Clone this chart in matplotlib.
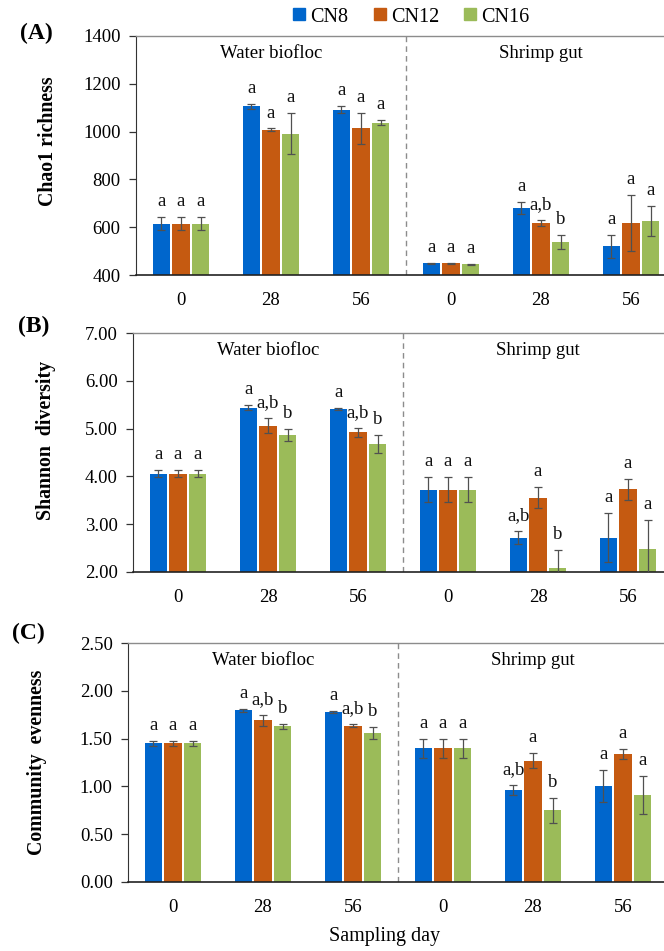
import matplotlib
matplotlib.use("Agg")
import matplotlib.pyplot as plt
from matplotlib.lines import Line2D
import numpy as np

plt.rcParams['font.family'] = ['Liberation Serif', 'DejaVu Serif']

series = ['CN8', 'CN12', 'CN16']
colors = ['#0066CC', '#C55A11', '#9BBB59']
days = ['0', '28', '56', '0', '28', '56']
sections = ['Water biofloc', 'Shrimp gut']

# Panel A - Chao1 richness
chao1_mean = {
    'CN8':  [615, 1106, 1092, 449, 682, 520],
    'CN12': [615, 1008, 1013, 449, 618, 618],
    'CN16': [615, 992, 1038, 445, 538, 626],
}
chao1_err = {
    'CN8':  [28, 10, 15, 3, 25, 48],
    'CN12': [28, 5, 64, 3, 14, 117],
    'CN16': [28, 87, 10, 3, 29, 63],
}
chao1_letters = {
    'CN8':  ['a', 'a', 'a', 'a', 'a', 'a'],
    'CN12': ['a', 'a', 'a', 'a', 'a,b', 'a'],
    'CN16': ['a', 'a', 'a', 'a', 'b', 'a'],
}

# Panel B - Shannon diversity
shannon_mean = {
    'CN8':  [4.06, 5.44, 5.41, 3.72, 2.72, 2.72],
    'CN12': [4.06, 5.06, 4.92, 3.72, 3.55, 3.73],
    'CN16': [4.06, 4.87, 4.68, 3.72, 2.08, 2.48],
}
shannon_err = {
    'CN8':  [0.07, 0.05, 0.03, 0.26, 0.14, 0.52],
    'CN12': [0.07, 0.16, 0.09, 0.26, 0.22, 0.22],
    'CN16': [0.07, 0.12, 0.19, 0.26, 0.38, 0.60],
}
shannon_letters = {
    'CN8':  ['a', 'a', 'a', 'a', 'a,b', 'a'],
    'CN12': ['a', 'a,b', 'a,b', 'a', 'a', 'a'],
    'CN16': ['a', 'b', 'b', 'a', 'b', 'a'],
}

# Panel C - Community evenness
even_mean = {
    'CN8':  [1.45, 1.795, 1.78, 1.40, 0.96, 1.005],
    'CN12': [1.45, 1.69, 1.635, 1.40, 1.27, 1.34],
    'CN16': [1.45, 1.63, 1.56, 1.40, 0.75, 0.91],
}
even_err = {
    'CN8':  [0.03, 0.015, 0.01, 0.10, 0.05, 0.17],
    'CN12': [0.03, 0.06, 0.015, 0.10, 0.08, 0.055],
    'CN16': [0.03, 0.025, 0.06, 0.10, 0.13, 0.20],
}
even_letters = {
    'CN8':  ['a', 'a', 'a', 'a', 'a,b', 'a'],
    'CN12': ['a', 'a,b', 'a,b', 'a', 'a', 'a'],
    'CN16': ['a', 'b', 'b', 'a', 'b', 'a'],
}

W, H = 664, 951
fig = plt.figure(figsize=(W / 100, H / 100), dpi=100)

panels = [
    dict(tag='(A)', ylabel='Chao1 richness', mean=chao1_mean, err=chao1_err, let=chao1_letters,
         ylim=(400, 1400), ticks=np.arange(400, 1401, 200), fmt='{:.0f}',
         left=136, top=36, bottom=275, ylab_xy=(48, 141), tag_xy=(20, 33)),
    dict(tag='(B)', ylabel='Shannon  diversity', mean=shannon_mean, err=shannon_err, let=shannon_letters,
         ylim=(2, 7), ticks=np.arange(2, 7.01, 1), fmt='{:.2f}',
         left=133, top=333, bottom=572, ylab_xy=(46, 440), tag_xy=(18, 326)),
    dict(tag='(C)', ylabel='Community  evenness', mean=even_mean, err=even_err, let=even_letters,
         ylim=(0, 2.5), ticks=np.arange(0, 2.51, 0.5), fmt='{:.2f}',
         left=128, top=643, bottom=882, ylab_xy=(37, 762), tag_xy=(12, 633)),
]

x = np.arange(len(days))
bw = 0.19
offs = [-0.217, 0, 0.217]
axw = 540

for p in panels:
    ax = fig.add_axes([p['left'] / W, 1 - p['bottom'] / H, axw / W, (p['bottom'] - p['top']) / H])
    for i, s in enumerate(series):
        xs = x + offs[i]
        ax.bar(xs, np.array(p['mean'][s]) - p['ylim'][0], bottom=p['ylim'][0], width=bw,
               color=colors[i], label=s, zorder=2)
        ax.errorbar(xs, p['mean'][s], yerr=p['err'][s], fmt='none', ecolor='#505050',
                    elinewidth=0.9, capsize=3, capthick=0.9, zorder=3)
        for xi, m, e, t in zip(xs, p['mean'][s], p['err'][s], p['let'][s]):
            ax.annotate(t, (xi, m + e), xytext=(0, 5), textcoords='offset points',
                        ha='center', va='bottom', fontsize=13.5, color='#111111')
    ax.set_xlim(-0.5, 5.5)
    ax.set_ylim(*p['ylim'])
    ax.set_yticks(p['ticks'])
    ax.set_yticklabels([p['fmt'].format(t) for t in p['ticks']], fontsize=13.5)
    ax.set_xticks(x)
    ax.set_xticklabels(days, fontsize=13.5)
    ax.tick_params(axis='x', length=0, pad=12)
    ax.tick_params(axis='y', length=5, width=0.9, color='#333333', pad=6)
    ax.spines['right'].set_visible(False)
    ax.spines['top'].set_color('#8c8c8c')
    ax.spines['top'].set_linewidth(1.0)
    ax.spines['left'].set_color('#333333')
    ax.spines['bottom'].set_color('#222222')
    ax.spines['bottom'].set_linewidth(1.2)
    ax.axvline(2.5, color='#8c8c8c', linestyle=(0, (4, 3)), linewidth=1.0, zorder=1)
    ytxt = p['ylim'][1] - (p['ylim'][1] - p['ylim'][0]) * 0.075
    ax.text(1, ytxt, sections[0], ha='center', va='center', fontsize=13.5)
    ax.text(4, ytxt, sections[1], ha='center', va='center', fontsize=13.5)
    fig.text(p['ylab_xy'][0] / W, 1 - p['ylab_xy'][1] / H, p['ylabel'],
             rotation=90, ha='center', va='center', fontsize=14.3, fontweight='bold')
    fig.text(p['tag_xy'][0] / W, 1 - p['tag_xy'][1] / H, p['tag'], ha='left', va='center',
             fontsize=17, fontweight='bold')

handles = [Line2D([], [], marker='s', linestyle='none', markersize=9, color=c) for c in colors]
fig.legend(handles, series, loc='center', bbox_to_anchor=(410 / W, 1 - 17 / H), ncol=3,
           frameon=False, fontsize=14.5, handletextpad=0.1, columnspacing=1.1, handlelength=0.9)

fig.text(385 / W, 1 - 937 / H, 'Sampling day', ha='center', va='center', fontsize=14.5)

fig.savefig('out.png', dpi=100)
